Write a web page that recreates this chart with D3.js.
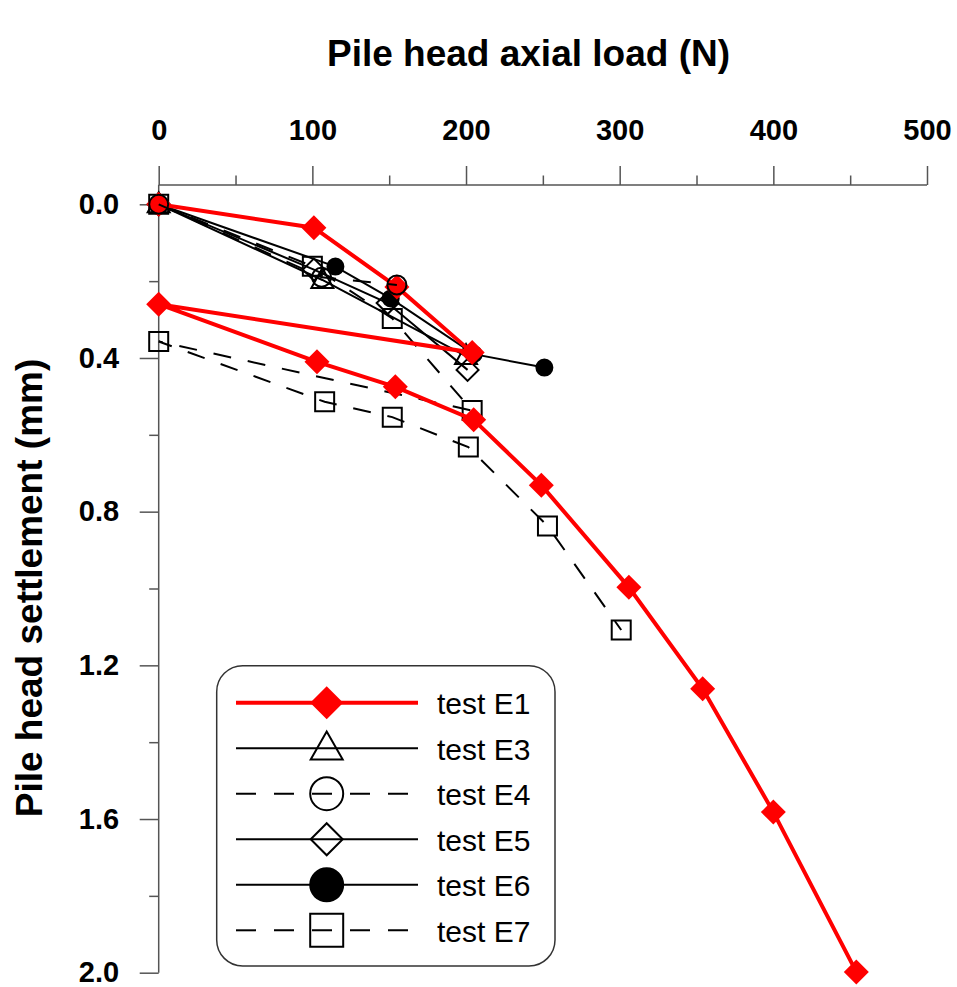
<!DOCTYPE html>
<html>
<head>
<meta charset="utf-8">
<script src="https://cdn.jsdelivr.net/npm/d3@7/dist/d3.min.js"></script>
<style>
  html, body { margin: 0; padding: 0; background: #fff; }
  svg { display: block; }
</style>
</head>
<body>
<svg id="chart" width="957" height="987"></svg>
<script>
// ---------------- data ----------------
const xTicks = [0, 100, 200, 300, 400, 500];
const xMinorTicks = [50, 150, 250, 350, 450];
const yTicks = [0, 0.4, 0.8, 1.2, 1.6, 2.0];
const yMinorTicks = [0.2, 0.6, 1.0, 1.4, 1.8];

const seriesNames = ["test E1", "test E3", "test E4", "test E5", "test E6", "test E7"];

const e1Load   = [0, 101, 155, 204, 0, 103, 154, 205, 249, 306, 354, 400, 454];
const e1Settle = [0, 0.061, 0.215, 0.386, 0.26, 0.41, 0.475, 0.561, 0.731, 0.997, 1.261, 1.582, 1.998];

const e3Load   = [0, 106.5, 200];
const e3Settle = [0, 0.197, 0.395];

const e4Load   = [0, 106, 155];
const e4Settle = [0, 0.19, 0.21];

const e5Load   = [0, 101, 149, 201];
const e5Settle = [0, 0.17, 0.257, 0.431];

const e6Load   = [0, 115, 151, 205, 251];
const e6Settle = [0, 0.162, 0.245, 0.39, 0.425];

const e7Load   = [0, 100, 152, 204, 0, 108, 152, 201.5, 253, 301];
const e7Settle = [0, 0.161, 0.297, 0.537, 0.357, 0.514, 0.554, 0.632, 0.837, 1.108];

// ---------------- setup ----------------
const svg = d3.select("#chart");
const FONT = "'Liberation Sans', Arial, Helvetica, sans-serif";

const x = d3.scaleLinear().domain([0, 500]).range([158.7, 927]);
const y = d3.scaleLinear().domain([0, 2]).range([204.3, 972.7]);
const axisY = 185;   // position of top axis line
const axisColor = "#555";

// axes
const xAxis = d3.axisTop(x).tickValues(xTicks).tickSize(19).tickPadding(26)
  .tickFormat(d3.format("d"));
const gx = svg.append("g").attr("transform", `translate(0,${axisY})`).call(xAxis);
const xMinor = d3.axisTop(x).tickValues(xMinorTicks).tickSize(9.5).tickFormat("");
const gxm = svg.append("g").attr("transform", `translate(0,${axisY})`).call(xMinor);

const yAxis = d3.axisLeft(y).tickValues(yTicks).tickSize(19).tickPadding(20.5)
  .tickFormat(d3.format(".1f"));
const gy = svg.append("g").attr("transform", `translate(${x(0)},0)`).call(yAxis);
const yMinor = d3.axisLeft(y).tickValues(yMinorTicks).tickSize(9.5).tickFormat("");
const gym = svg.append("g").attr("transform", `translate(${x(0)},0)`).call(yMinor);

[gx, gxm, gy, gym].forEach(g => {
  g.select(".domain").remove();
  g.selectAll(".tick line").attr("stroke", axisColor).attr("stroke-width", 1.5);
  g.selectAll(".tick text")
    .attr("fill", "#000")
    .style("font-family", FONT)
    .style("font-weight", "bold")
    .style("font-size", "29px");
});

// domain lines
svg.append("line")
  .attr("x1", x(0)).attr("x2", x(500)).attr("y1", axisY).attr("y2", axisY)
  .attr("stroke", axisColor).attr("stroke-width", 1.5);
svg.append("line")
  .attr("x1", x(0)).attr("x2", x(0)).attr("y1", axisY).attr("y2", y(2))
  .attr("stroke", axisColor).attr("stroke-width", 1.5);

// titles
svg.append("text")
  .attr("x", 528.5).attr("y", 66)
  .attr("text-anchor", "middle")
  .style("font-family", FONT).style("font-weight", "bold").style("font-size", "37px")
  .text("Pile head axial load (N)");

svg.append("text")
  .attr("transform", "translate(41.5,588) rotate(-90)")
  .attr("text-anchor", "middle")
  .style("font-family", FONT).style("font-weight", "bold").style("font-size", "37px")
  .text("Pile head settlement (mm)");

// ---------------- series ----------------
function zip(a, b) { return a.map((v, i) => [v, b[i]]); }

// marker shape generators (centered at 0,0)
function diamondPath(h) { return `M0,${-h}L${h},0L0,${h}L${-h},0Z`; }
function trianglePath(w, h) { return `M0,${-h*0.6}L${w/2},${h*0.4}L${-w/2},${h*0.4}Z`; }
function squarePath(s) { const a = s/2; return `M${-a},${-a}H${a}V${a}H${-a}Z`; }
function circlePath(r) { return `M${r},0A${r},${r} 0 1,1 ${-r},0A${r},${r} 0 1,1 ${r},0Z`; }

const series = [
  { name: "test E7", data: zip(e7Load, e7Settle), color: "#000", width: 2, dash: "18,17",
    plotMarker: squarePath(19), legendMarker: squarePath(33), fill: "none" },
  { name: "test E6", data: zip(e6Load, e6Settle), color: "#000", width: 2, dash: null,
    plotMarker: circlePath(8), legendMarker: circlePath(16.5), fill: "#000" },
  { name: "test E5", data: zip(e5Load, e5Settle), color: "#000", width: 2, dash: null,
    plotMarker: diamondPath(11), legendMarker: diamondPath(16), fill: "none" },
  { name: "test E3", data: zip(e3Load, e3Settle), color: "#000", width: 2, dash: null,
    plotMarker: trianglePath(22, 20), legendMarker: trianglePath(32, 28), fill: "none" },
  { name: "test E1", data: zip(e1Load, e1Settle), color: "#ff0000", width: 4, dash: null,
    plotMarker: diamondPath(12.5), legendMarker: diamondPath(16.5), fill: "#ff0000" },
  { name: "test E4", data: zip(e4Load, e4Settle), color: "#000", width: 2, dash: "18,17",
    plotMarker: circlePath(9.5), legendMarker: circlePath(16.5), fill: "none" },
];

const line = d3.line().x(d => x(d[0])).y(d => y(d[1]));

series.forEach(s => {
  const g = svg.append("g");
  g.append("path")
    .attr("d", line(s.data))
    .attr("fill", "none")
    .attr("stroke", s.color)
    .attr("stroke-width", s.width)
    .attr("stroke-dasharray", s.dash)
    .attr("stroke-linejoin", "miter");
  g.selectAll("path.m").data(s.data).enter().append("path")
    .attr("class", "m")
    .attr("transform", d => `translate(${x(d[0])},${y(d[1])})`)
    .attr("d", s.plotMarker)
    .attr("fill", s.fill)
    .attr("stroke", s.color === "#ff0000" ? "none" : s.color)
    .attr("stroke-width", 2);
});

// ---------------- legend ----------------
const legend = svg.append("g");
legend.append("rect")
  .attr("x", 216.7).attr("y", 665.7).attr("width", 338.3).attr("height", 300.3)
  .attr("rx", 26).attr("ry", 26)
  .attr("fill", "#fff").attr("stroke", "#333").attr("stroke-width", 1.5);

const legendRowY = d3.scalePoint().domain(seriesNames).range([702.7, 930.3]);
const legendOrder = seriesNames.map(n => series.find(s => s.name === n));

legendOrder.forEach(s => {
  const cy = legendRowY(s.name);
  legend.append("line")
    .attr("x1", 236).attr("x2", 418).attr("y1", cy).attr("y2", cy)
    .attr("stroke", s.color).attr("stroke-width", s.color === "#ff0000" ? 4 : 2)
    .attr("stroke-dasharray", s.dash ? "20,18" : null);
  legend.append("path")
    .attr("transform", `translate(326.7,${cy})`)
    .attr("d", s.legendMarker)
    .attr("fill", s.fill)
    .attr("stroke", s.color === "#ff0000" ? "none" : s.color)
    .attr("stroke-width", 2);
  legend.append("text")
    .attr("x", 437).attr("y", cy).attr("dy", "0.38em")
    .style("font-family", FONT).style("font-size", "30px")
    .text(s.name);
});
</script>
</body>
</html>
